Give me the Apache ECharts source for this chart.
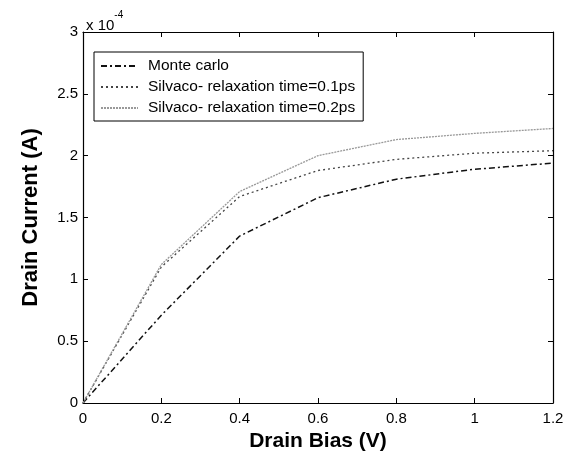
<!DOCTYPE html>
<html>
<head>
<meta charset="utf-8">
<script src="https://cdn.jsdelivr.net/npm/echarts@6/dist/echarts.min.js"></script>
<style>
  html, body { margin: 0; padding: 0; background: #fff; }
  #chart { width: 576px; height: 455px; }
</style>
</head>
<body>
<div id="chart"></div>
<script>
// drain bias (V)
const biasValues = [0, 0.2, 0.4, 0.6, 0.8, 1.0, 1.2]
// drain current, in units of 1e-4 A
const monteCarlo = [0, 0.71, 1.35, 1.66, 1.81, 1.89, 1.94]
const silvaco01 = [0, 1.1, 1.67, 1.88, 1.97, 2.02, 2.04]
const silvaco02 = [0, 1.12, 1.71, 2.0, 2.13, 2.18, 2.22]
const seriesNames = [
  'Monte carlo',
  'Silvaco- relaxation time=0.1ps',
  'Silvaco- relaxation time=0.2ps'
]

const font = 'Liberation Sans, Arial, sans-serif'

function pairs(values) {
  return biasValues.map((x, i) => [x, values[i]])
}

function tick() {
  return { show: true, inside: true, length: 5, lineStyle: { color: '#000', width: 1 } }
}

function axisLine() {
  return { show: true, onZero: false, lineStyle: { color: '#000', width: 1.2 } }
}

const chart = echarts.init(document.getElementById('chart'))

chart.setOption({
  animation: false,
  backgroundColor: '#fff',
  textStyle: { fontFamily: font },
  title: {
    left: 81,
    top: 5,
    text: '{a|x 10}{b|-4}',
    textStyle: {
      fontWeight: 'normal',
      rich: {
        a: { fontSize: 15, color: '#000', fontFamily: font, fontWeight: 'normal', padding: [8, 0, 0, 0] },
        b: { fontSize: 10, color: '#000', fontFamily: font, fontWeight: 'normal', verticalAlign: 'top' }
      }
    }
  },
  grid: { left: 83, right: 23, top: 32, bottom: 52, outerBoundsMode: 'none', containLabel: false },
  legend: {
    left: 94,
    top: 52,
    orient: 'vertical',
    borderColor: '#000',
    borderWidth: 1,
    borderRadius: 0,
    padding: [6, 8, 5, 6],
    itemGap: 5,
    itemWidth: 37,
    itemHeight: 14,
    itemStyle: { opacity: 0 },
    textStyle: { fontSize: 15.5, color: '#000', fontFamily: font, padding: [0, 0, 0, 5] },
    data: seriesNames
  },
  xAxis: [
    {
      type: 'value',
      position: 'bottom',
      min: 0,
      max: 1.2,
      interval: 0.2,
      name: 'Drain Bias (V)',
      nameLocation: 'middle',
      nameGap: 27,
      nameTextStyle: { fontSize: 21, fontWeight: 'bold', color: '#000' },
      axisLine: axisLine(),
      axisTick: tick(),
      axisLabel: { color: '#000', fontSize: 15, margin: 8 },
      splitLine: { show: false }
    },
    {
      type: 'value',
      position: 'top',
      min: 0,
      max: 1.2,
      interval: 0.2,
      axisLine: axisLine(),
      axisTick: tick(),
      axisLabel: { show: false },
      splitLine: { show: false }
    }
  ],
  yAxis: [
    {
      type: 'value',
      position: 'left',
      min: 0,
      max: 3,
      interval: 0.5,
      name: 'Drain Current (A)',
      nameLocation: 'middle',
      nameGap: 41,
      nameTextStyle: { fontSize: 22, fontWeight: 'bold', color: '#000' },
      axisLine: axisLine(),
      axisTick: tick(),
      axisLabel: { color: '#000', fontSize: 15, margin: 5 },
      splitLine: { show: false }
    },
    {
      type: 'value',
      position: 'right',
      min: 0,
      max: 3,
      interval: 0.5,
      axisLine: axisLine(),
      axisTick: tick(),
      axisLabel: { show: false },
      splitLine: { show: false }
    }
  ],
  series: [
    {
      name: seriesNames[0],
      type: 'line',
      symbol: 'none',
      data: pairs(monteCarlo),
      color: '#111',
      lineStyle: { color: '#111', width: 1.5, type: [6, 3, 2, 3] }
    },
    {
      name: seriesNames[1],
      type: 'line',
      symbol: 'none',
      data: pairs(silvaco01),
      color: '#444',
      lineStyle: { color: '#444', width: 1.3, type: [2, 3] }
    },
    {
      name: seriesNames[2],
      type: 'line',
      symbol: 'none',
      data: pairs(silvaco02),
      color: '#999',
      lineStyle: { color: '#999', width: 1.3, type: [2, 1] }
    }
  ]
})
</script>
</body>
</html>
